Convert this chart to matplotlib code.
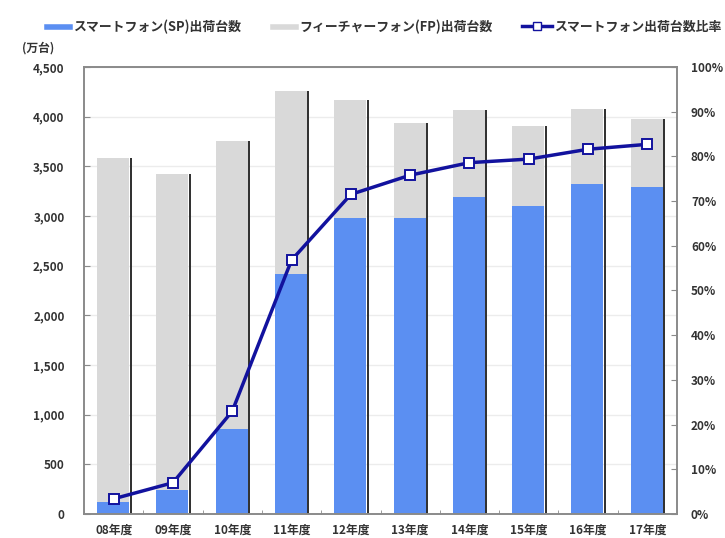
import matplotlib.pyplot as plt
from matplotlib.lines import Line2D
from matplotlib.ticker import FuncFormatter, MultipleLocator
import numpy as np

plt.rcParams["font.family"] = ["Noto Sans CJK JP", "DejaVu Sans"]

years = ["08年度", "09年度", "10年度", "11年度", "12年度",
         "13年度", "14年度", "15年度", "16年度", "17年度"]
# shipments in 10k units
sp_units = [120, 240, 860, 2420, 2980, 2980, 3190, 3100, 3320, 3290]
total_units = [3580, 3420, 3750, 4260, 4170, 3940, 4070, 3910, 4080, 3980]
fp_units = [t - s for t, s in zip(total_units, sp_units)]
# smartphone share of shipments (%)
sp_ratio = [3.4, 7.0, 23.0, 56.8, 71.5, 75.8, 78.6, 79.4, 81.6, 82.7]

BLUE = "#5b8ff2"
GREY = "#d9d9d9"
NAVY = "#12129e"
TEXT = "#333333"

fig = plt.figure(figsize=(7.25, 5.38), dpi=100)
ax = fig.add_axes([84 / 725, 1 - 514 / 538, 593 / 725, 447 / 538])

x = np.arange(len(years))
ax.bar(x - 0.01, sp_units, width=0.54, color=BLUE, zorder=2)
ax.bar(x - 0.01, fp_units, bottom=sp_units, width=0.54, color=GREY, zorder=2)
# dark edge on the right side of each column
ax.bar(x + 0.285, total_units, width=0.035, color="#333333", zorder=2)

ax.set_xlim(-0.5, len(years) - 0.5)
ax.set_ylim(0, 4500)
ax.yaxis.set_major_locator(MultipleLocator(500))
ax.yaxis.set_major_formatter(FuncFormatter(lambda v, p: f"{int(v):,}"))
ax.set_xticks(x)
ax.set_xticklabels(years)
ax.set_xticks(np.arange(len(years) + 1) - 0.5, minor=True)
ax.grid(axis="y", color="#ececec", linewidth=1, zorder=0)
ax.set_axisbelow(True)

for s in ax.spines.values():
    s.set_color("#8a8a8a")
    s.set_linewidth(1.2)

ax.tick_params(axis="y", direction="in", length=4, color="#8a8a8a",
               pad=14, labelsize=8.5, labelcolor=TEXT)
ax.tick_params(axis="x", which="major", length=0, pad=7,
               labelsize=8.5, labelcolor=TEXT)
ax.tick_params(axis="x", which="minor", direction="in", length=3,
               color="#8a8a8a")

ax2 = ax.twinx()
ax2.plot(x, [r / 100 for r in sp_ratio], color=NAVY, linewidth=2.5,
         marker="s", markersize=7, markerfacecolor="white",
         markeredgecolor=NAVY, markeredgewidth=1.4, zorder=5)
ax2.set_ylim(0, 1)
ax2.yaxis.set_major_locator(MultipleLocator(0.1))
ax2.yaxis.set_major_formatter(FuncFormatter(lambda v, p: f"{v:.0%}"))
ax2.tick_params(axis="y", direction="in", length=4, color="#8a8a8a",
                pad=10, labelsize=8.5, labelcolor=TEXT)
for s in ax2.spines.values():
    s.set_color("#8a8a8a")
    s.set_linewidth(1.2)

for lab in ax.get_yticklabels() + ax.get_xticklabels() + ax2.get_yticklabels():
    lab.set_fontweight("bold")

fig.text(22 / 725, 1 - 48 / 538, "(万台)", fontsize=8.5, color=TEXT,
         fontweight="bold", va="center", ha="left")

# legend entries laid out one by one across the top
legend_items = [
    (Line2D([], [], color=BLUE, linewidth=4), "スマートフォン(SP)出荷台数", 47, 1.8),
    (Line2D([], [], color=GREY, linewidth=4), "フィーチャーフォン(FP)出荷台数", 273, 1.8),
    (Line2D([], [], color=NAVY, linewidth=2.5, marker="s", markersize=6,
            markerfacecolor="white", markeredgecolor=NAVY),
     "スマートフォン出荷台数比率", 522, 2.3),
]
for handle, label, left, hlen in legend_items:
    leg = fig.legend([handle], [label], loc="center left",
                     bbox_to_anchor=(left / 725, 1 - 27 / 538), frameon=False,
                     handlelength=hlen, handletextpad=0.2,
                     borderaxespad=0, borderpad=0,
                     prop={"size": 9.3, "weight": "bold"})
    for t in leg.get_texts():
        t.set_color(TEXT)

fig.savefig("out.png", dpi=100)
